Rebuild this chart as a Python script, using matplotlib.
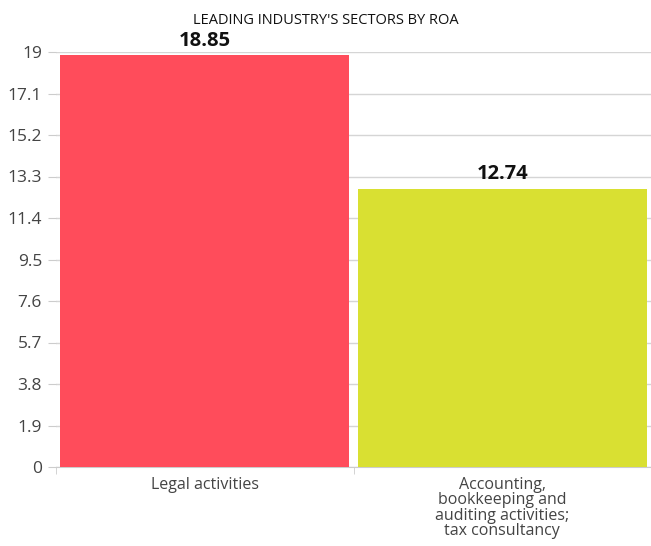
import matplotlib
matplotlib.use("Agg")
import matplotlib.pyplot as plt
import numpy as np

categories = ["Legal activities",
              "Accounting,\nbookkeeping and\nauditing activities;\ntax consultancy"]
values = [18.85, 12.74]
value_labels = ["18.85", "12.74"]
colors = ["#FF4C5B", "#D9E032"]
yticks = [0, 1.9, 3.8, 5.7, 7.6, 9.5, 11.4, 13.3, 15.2, 17.1, 19]
ytick_labels = ["0", "1.9", "3.8", "5.7", "7.6", "9.5", "11.4", "13.3", "15.2", "17.1", "19"]
title = "LEADING INDUSTRY'S SECTORS BY ROA"

plt.rcParams['font.family'] = ['Open Sans', 'DejaVu Sans']

fig = plt.figure(figsize=(6.51, 5.46), dpi=100)
ax = fig.add_axes([56/651, 1-467/546, 1-56/651, (467-52)/546])

x = np.arange(len(values))
ax.bar(x, values, width=0.97, color=colors, zorder=3)
for xi, v, lab in zip(x, values, value_labels):
    ax.text(xi, v + 0.2, lab, ha='center', va='bottom', fontsize=14.5,
            fontweight='bold', color='#111111', zorder=4)

ax.set_xlim(-0.5, len(values) - 0.5)
ax.set_ylim(0, 19)
ax.set_yticks(yticks)
ax.set_yticklabels(ytick_labels)
ax.set_xticks(x)
ax.set_xticklabels(categories, linespacing=0.95)
ax.set_xticks(np.arange(-0.5, len(values)), minor=True)

ax.tick_params(axis='y', length=6, color='#cccccc', labelsize=12.5, labelcolor='#444444', pad=4)
ax.tick_params(axis='x', which='major', length=0, labelsize=11.5, labelcolor='#444444', pad=7)
ax.tick_params(axis='x', which='minor', length=5, color='#cccccc')

ax.yaxis.grid(True, color='#d5d5d5', linewidth=1, zorder=0)
for s in ['top', 'right', 'left']:
    ax.spines[s].set_visible(False)
ax.spines['bottom'].set_color('#cccccc')

fig.text(0.5, 1-21/546, title, ha='center', va='center', fontsize=10.5, color='#111111')

fig.savefig("out.png", dpi=100)
